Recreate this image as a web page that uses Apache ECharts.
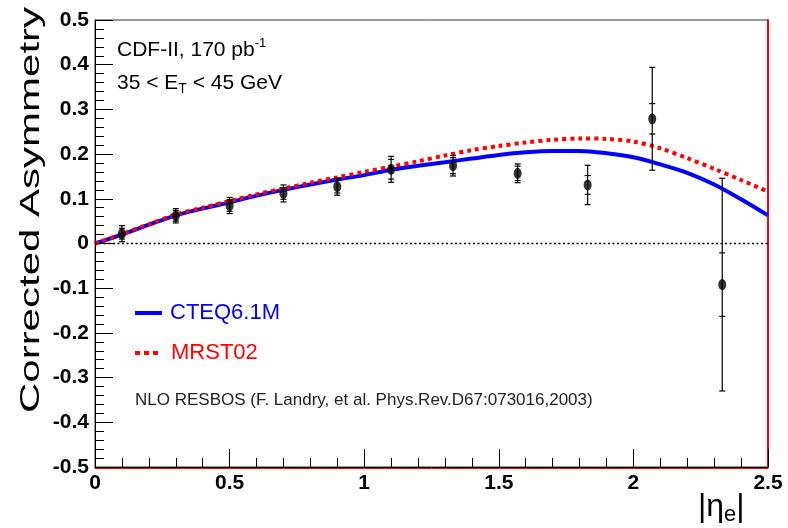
<!DOCTYPE html>
<html>
<head>
<meta charset="utf-8">
<script src="https://cdn.jsdelivr.net/npm/echarts@6/dist/echarts.min.js"></script>
<style>
  html, body { margin: 0; padding: 0; background: #fff; }
  #chart { width: 788px; height: 528px; }
</style>
</head>
<body>
<div id="chart"></div>
<script>
// Measured charge asymmetry versus |eta_e|
const etaPoints = [0.1, 0.3, 0.5, 0.7, 0.9, 1.1, 1.33, 1.57, 1.83, 2.07, 2.33];
const asymmetry = [0.022, 0.062, 0.085, 0.112, 0.127, 0.166, 0.174, 0.157, 0.131, 0.279, -0.092];
const statErr   = [0.012, 0.012, 0.013, 0.013, 0.014, 0.022, 0.018, 0.016, 0.021, 0.034, 0.071];
const totalErr  = [0.018, 0.016, 0.018, 0.019, 0.019, 0.029, 0.023, 0.021, 0.044, 0.115, 0.238];

// NLO RESBOS predictions on a 0.1 grid in |eta_e|
const etaGrid = [0, 0.1, 0.2, 0.3, 0.4, 0.5, 0.6, 0.7, 0.8, 0.9, 1.0, 1.1, 1.2, 1.3,
                 1.4, 1.5, 1.6, 1.7, 1.8, 1.9, 2.0, 2.1, 2.2, 2.3, 2.4, 2.5];
const cteq = [0, 0.020, 0.042, 0.063, 0.078, 0.092, 0.107, 0.120, 0.132, 0.143, 0.153,
              0.165, 0.174, 0.182, 0.190, 0.198, 0.204, 0.207, 0.207, 0.202, 0.193,
              0.177, 0.158, 0.132, 0.099, 0.063];
const mrst = [0, 0.021, 0.043, 0.065, 0.080, 0.095, 0.110, 0.123, 0.136, 0.148, 0.160,
              0.172, 0.184, 0.197, 0.209, 0.218, 0.226, 0.232, 0.235, 0.234, 0.228,
              0.213, 0.191, 0.167, 0.142, 0.116];

// Axis tick labels
const xTicks = ['0', '0.5', '1', '1.5', '2', '2.5'];
const yTicks = ['-0.5', '-0.4', '-0.3', '-0.2', '-0.1', '0', '0.1', '0.2', '0.3', '0.4', '0.5'];

const sans = '"Liberation Sans", Arial, sans-serif';

const chart = echarts.init(document.getElementById('chart'));

const pts = etaPoints.map((x, i) => [x, asymmetry[i], statErr[i], totalErr[i]]);

function errorBars(params, api) {
  const x = api.value(0), y = api.value(1), s = api.value(2), t = api.value(3);
  const top = api.coord([x, y + t]);
  const bot = api.coord([x, y - t]);
  const sTop = api.coord([x, y + s]);
  const sBot = api.coord([x, y - s]);
  const w = 3;
  const st = { stroke: '#000', lineWidth: 1.2 };
  const cap = (p) => ({ type: 'line', shape: { x1: p[0] - w, y1: p[1], x2: p[0] + w, y2: p[1] }, style: st });
  return {
    type: 'group',
    children: [
      { type: 'line', shape: { x1: top[0], y1: top[1], x2: bot[0], y2: bot[1] }, style: st },
      cap(top), cap(bot), cap(sTop), cap(sBot)
    ]
  };
}

const option = {
  backgroundColor: '#fff',
  animation: false,
  grid: {
    left: 95, right: 20, top: 20, bottom: 61,
    show: true, borderColor: '#333', borderWidth: 1, backgroundColor: '#fff'
  },
  xAxis: [{
    type: 'value', min: 0, max: 2.5, interval: 0.5,
    axisLine: { show: true, onZero: false, lineStyle: { color: '#000', width: 1 } },
    axisTick: { show: true, inside: true, length: 18, lineStyle: { color: '#000' } },
    minorTick: { show: true, splitNumber: 5, length: 9, lineStyle: { color: '#000' } },
    splitLine: { show: false },
    axisLabel: {
      color: '#000', fontFamily: sans, fontWeight: 'bold', fontSize: 21, margin: 6,
      formatter: (v) => xTicks[Math.round(v / 0.5)]
    },
    z: 3
  }, {
    type: 'value', min: 0, max: 2.5, position: 'bottom', offset: 1,
    axisLine: { show: true, onZero: false, lineStyle: { color: '#ff0000', width: 1 } },
    axisTick: { show: false }, axisLabel: { show: false }, splitLine: { show: false },
    z: 1
  }],
  yAxis: [{
    type: 'value', min: -0.5, max: 0.5, interval: 0.1,
    axisLine: { show: true, onZero: false, lineStyle: { color: '#000', width: 1 } },
    axisTick: { show: true, inside: true, length: 18, lineStyle: { color: '#000' } },
    minorTick: { show: true, splitNumber: 5, length: 9, lineStyle: { color: '#000' } },
    splitLine: { show: false },
    axisLabel: {
      color: '#000', fontFamily: sans, fontWeight: 'bold', fontSize: 21, margin: 6,
      formatter: (v) => yTicks[Math.round((v + 0.5) / 0.1)]
    }
  }, {
    type: 'value', min: -0.5, max: 0.5, position: 'right',
    axisLine: { show: true, onZero: false, lineStyle: { color: '#ff0000', width: 2 } },
    axisTick: { show: false }, axisLabel: { show: false }, splitLine: { show: false }
  }],
  series: [
    {
      name: 'CTEQ6.1M', type: 'line', smooth: 0.3, showSymbol: false, silent: true,
      data: etaGrid.map((x, i) => [x, cteq[i]]),
      lineStyle: { color: '#0000ff', width: 4 },
      markLine: {
        silent: true, symbol: 'none', label: { show: false },
        lineStyle: { color: '#000', width: 1.3, type: [2, 2.5] },
        data: [{ yAxis: 0 }]
      },
      z: 2
    },
    {
      name: 'MRST02', type: 'line', smooth: 0.3, showSymbol: false, silent: true,
      data: etaGrid.map((x, i) => [x, mrst[i]]),
      lineStyle: { color: '#ff0000', width: 4, type: [4, 4] },
      z: 3
    },
    {
      name: 'errors', type: 'custom', renderItem: errorBars, data: pts,
      encode: { x: 0, y: 1 }, silent: true, z: 4
    },
    {
      name: 'data', type: 'scatter', data: pts.map(p => [p[0], p[1]]),
      symbol: 'circle', symbolSize: [8, 11], itemStyle: { color: '#000' }, silent: true, z: 5
    }
  ],
  graphic: [
    {
      type: 'text', x: 31, y: 210, rotation: Math.PI / 2, scaleX: 1.5,
      style: {
        text: 'Corrected Asymmetry', fill: '#000',
        font: '28px "Liberation Sans", sans-serif',
        textAlign: 'center', textVerticalAlign: 'middle'
      }
    },
    {
      type: 'text', x: 117, y: 50,
      style: {
        text: '{n|CDF-II, 170 pb}{s|-1}', fill: '#000',
        textVerticalAlign: 'middle',
        rich: {
          n: { fontFamily: sans, fontSize: 21, fill: '#000' },
          s: { fontFamily: sans, fontSize: 13, fill: '#000', padding: [0, 0, 13, 0] }
        }
      }
    },
    {
      type: 'text', x: 117, y: 83,
      style: {
        text: '{n|35 < E}{s|T}{n| < 45 GeV}', fill: '#000',
        textVerticalAlign: 'middle',
        rich: {
          n: { fontFamily: sans, fontSize: 21, fill: '#000' },
          s: { fontFamily: sans, fontSize: 14, fill: '#000', padding: [13, 0, 0, 0] }
        }
      }
    },
    {
      type: 'line', shape: { x1: 135, y1: 313, x2: 162, y2: 313 },
      style: { stroke: '#0000ff', lineWidth: 4 }
    },
    {
      type: 'text', x: 170, y: 313,
      style: { text: 'CTEQ6.1M', fill: '#0000ff', font: '22px ' + sans, textVerticalAlign: 'middle' }
    },
    {
      type: 'line', shape: { x1: 135, y1: 353, x2: 162, y2: 353 },
      style: { stroke: '#ff0000', lineWidth: 4, lineDash: [5, 4] }
    },
    {
      type: 'text', x: 171, y: 353,
      style: { text: 'MRST02', fill: '#ff0000', font: '22px ' + sans, textVerticalAlign: 'middle' }
    },
    {
      type: 'text', x: 135, y: 400,
      style: {
        text: 'NLO RESBOS (F. Landry, et al. Phys.Rev.D67:073016,2003)',
        fill: '#222', font: '17px ' + sans, textVerticalAlign: 'middle'
      }
    },
    {
      type: 'text', x: 698, y: 507,
      style: {
        text: '{n|\u007c\u03b7}{s|e}{n|\u007c}', fill: '#000',
        textVerticalAlign: 'middle',
        rich: {
          n: { fontFamily: sans, fontSize: 32, fill: '#000' },
          s: { fontFamily: sans, fontSize: 22, fill: '#000', padding: [16, 0, 0, 0] }
        }
      }
    }
  ]
};

chart.setOption(option);
</script>
</body>
</html>
